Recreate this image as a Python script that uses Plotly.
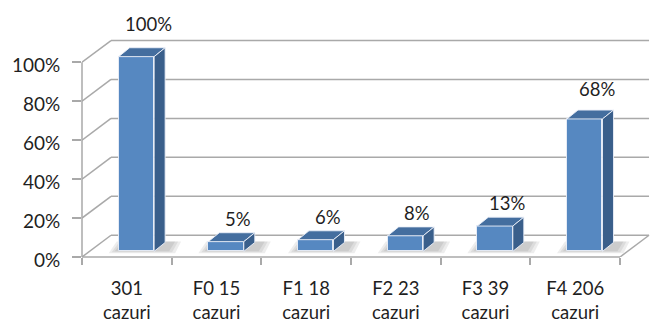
import plotly.graph_objects as go

# ---- data ----
categories = ["301<br>cazuri", "F0 15<br>cazuri", "F1 18<br>cazuri",
              "F2 23<br>cazuri", "F3 39<br>cazuri", "F4 206<br>cazuri"]
values = [100, 5, 6, 8, 13, 68]
y_ticks = [0, 20, 40, 60, 80, 100]

# ---- geometry / style (pixel based) ----
W, H = 655, 323
ML, MB = 82, 63
PX_X = 89.67          # px per category
PX_Y = 1.97           # px per percent
plot_w, plot_h = W - ML, H - MB
x_range = [-0.5, -0.5 + plot_w / PX_X]
y_range = [0, plot_h / PX_Y]

WX, WY = 29 / PX_X, 22 / PX_Y          # wall depth
BX, BY = 11 / PX_X, 9 / PX_Y           # bar depth
BASE = 5.7 / PX_Y                      # bar base lift
OFF, BW = -8.2 / PX_X, 35.5 / PX_X     # bar front-face offset & width

FRONT = "#5688C1"
TOP = "#446E9F"
SIDE = "#3A5F8B"
EDGE = "rgba(235,240,248,0.9)"
GRID = "#A9A9A9"
FONT = "Lato"
TXT = "#1f1f1f"

n = len(categories)
xs = list(range(n))

fig = go.Figure()

# front faces via bar trace
fig.add_trace(go.Bar(
    x=xs, y=values, base=[BASE] * n, width=BW, offset=OFF,
    marker=dict(color=FRONT, line=dict(color=EDGE, width=1)),
    showlegend=False, hoverinfo="skip"))

# top and side faces
for i, v in zip(xs, values):
    L, R = i + OFF, i + OFF + BW
    T = BASE + v
    fig.add_trace(go.Scatter(
        x=[L, R, R + BX, L + BX, L], y=[T, T, T + BY, T + BY, T],
        mode="lines", fill="toself", fillcolor=TOP,
        line=dict(color=EDGE, width=1), showlegend=False, hoverinfo="skip"))
    fig.add_trace(go.Scatter(
        x=[R, R + BX, R + BX, R, R], y=[BASE, BASE + BY, T + BY, T, BASE],
        mode="lines", fill="toself", fillcolor=SIDE,
        line=dict(color=EDGE, width=1), showlegend=False, hoverinfo="skip"))

shapes = []
# soft floor shadows under bars
for i in xs:
    L, R = i + OFF, i + OFF + BW
    sx0, sx1 = L - 10 / PX_X, R + BX + 10 / PX_X
    sy0, sy1 = BASE - 2 / PX_Y, BASE + BY + 1 / PX_Y
    for k, a in enumerate([0.07, 0.07, 0.07]):
        d = k * 3
        shapes.append(dict(
            type="path", xref="x", yref="y", layer="below",
            path=(f"M{sx0 + d / PX_X},{sy0 + d / 3 / PX_Y} "
                  f"L{sx1 - d / PX_X},{sy0 + d / 3 / PX_Y} "
                  f"L{sx1 + 6 / PX_X - d / PX_X},{sy1} "
                  f"L{sx0 + 8 / PX_X + d / PX_X},{sy1} Z"),
            fillcolor=f"rgba(0,0,0,{a})", line=dict(width=0)))
# back-wall gridlines and left-wall diagonals
for g in y_ticks:
    shapes.append(dict(type="line", xref="x", yref="y", layer="below",
                       x0=-0.5 + WX, x1=n - 0.5 + WX, y0=g + WY, y1=g + WY,
                       line=dict(color=GRID, width=1.5)))
    shapes.append(dict(type="line", xref="x", yref="y", layer="below",
                       x0=-0.5, x1=-0.5 + WX, y0=g, y1=g + WY,
                       line=dict(color=GRID, width=1.5)))
# floor front edge and right diagonal
shapes.append(dict(type="line", xref="x", yref="paper", layer="below",
                   x0=-0.5, x1=n - 0.5, y0=0, y1=0,
                   line=dict(color=GRID, width=1.5)))
shapes.append(dict(type="line", xref="x", yref="y", layer="below",
                   x0=n - 0.5, x1=n - 0.5 + WX, y0=0, y1=WY,
                   line=dict(color=GRID, width=1.5)))
# front vertical axis
shapes.append(dict(type="line", xref="paper", yref="y", layer="below",
                   x0=0, x1=0, y0=0, y1=max(y_ticks),
                   line=dict(color=GRID, width=1.5)))

annotations = []
for i, v in zip(xs, values):
    annotations.append(dict(
        x=i + OFF + BW / 2, y=BASE + v, xref="x", yref="y",
        text=f"{v}%", showarrow=False, xshift=12, yshift=22 + 0.11 * v,
        font=dict(family=FONT, size=18.5, color=TXT)))

fig.update_layout(
    width=W, height=H,
    margin=dict(l=ML, r=0, t=0, b=MB),
    paper_bgcolor="white", plot_bgcolor="white",
    shapes=shapes, annotations=annotations,
    xaxis=dict(range=x_range, tickvals=xs, ticktext=categories,
               showgrid=False, zeroline=False, showline=False,
               ticks="", ticklabelstandoff=18,
               tickfont=dict(family=FONT, size=18.5, color=TXT),
               minor=dict(tickvals=[i - 0.5 for i in range(n + 1)],
                          ticks="outside", ticklen=7, tickwidth=1.5,
                          tickcolor=GRID, showgrid=False)),
    yaxis=dict(range=y_range, tickvals=y_ticks,
               ticktext=[f"{t}%" for t in y_ticks],
               showgrid=False, zeroline=False, showline=False,
               ticks="outside", ticklen=9, tickwidth=1.5, tickcolor=GRID,
               ticklabelstandoff=8, ticklabelshift=3,
               tickfont=dict(family=FONT, size=19, color=TXT)),
    bargap=0,
)

fig.write_html("out.html")
